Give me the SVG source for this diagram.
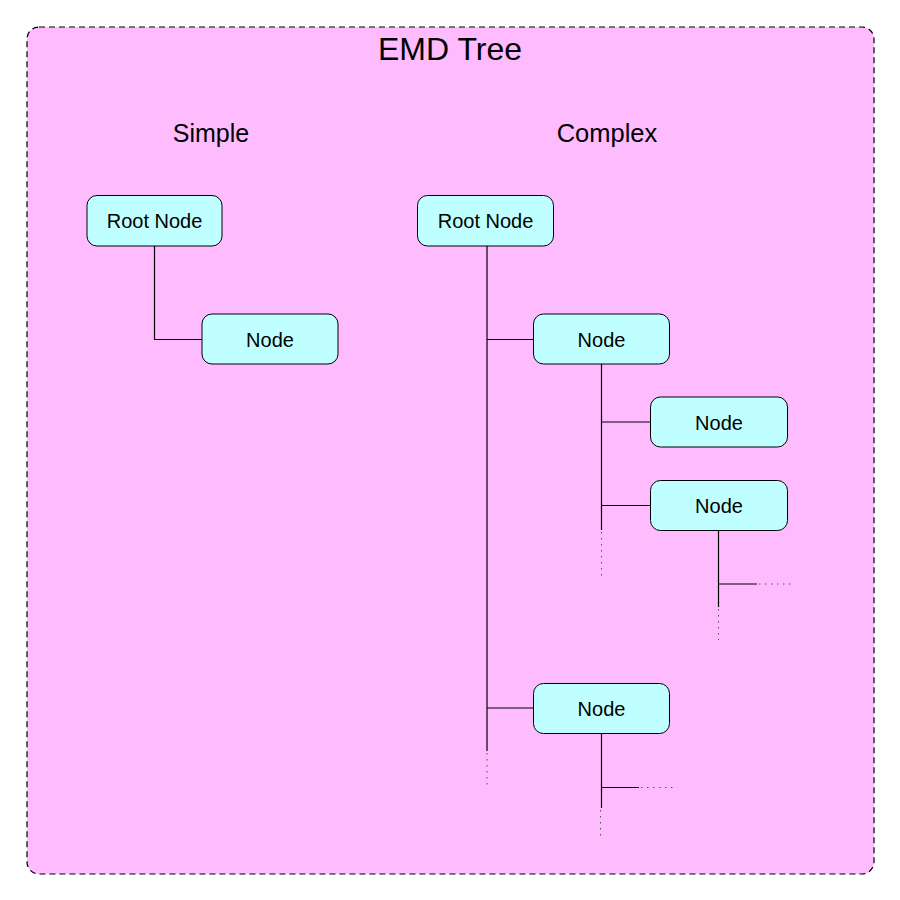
<svg xmlns="http://www.w3.org/2000/svg" width="900" height="900" viewBox="0 0 900 900">
<style>
.node rect{fill:#C0FFFF;stroke:#000;stroke-width:1}
.node text{font-family:"Liberation Sans",Arial,sans-serif;font-size:20px;text-anchor:middle;fill:#000}
.title{font-family:"Liberation Sans",Arial,sans-serif;text-anchor:middle;fill:#000}
.ln{stroke:#000;stroke-width:1.2;fill:none}
.dot{stroke:#555;stroke-width:1;fill:none;stroke-dasharray:1.5 4.5}
</style>
<rect x="27" y="27" width="847" height="847" rx="12" fill="#FEBBFE" stroke="#000" stroke-width="1.2" stroke-dasharray="6 4"/>
<text class="title" x="450" y="60" font-size="32">EMD Tree</text>
<text class="title" x="211" y="142" font-size="25">Simple</text>
<text class="title" x="607" y="142" font-size="25.5">Complex</text>
<g id="connectors">
<polyline class="ln" points="154.5,246 154.5,339.5 202,339.5"/>
<line class="ln" x1="487" y1="246" x2="487" y2="751"/>
<line class="dot" x1="487" y1="753" x2="487" y2="788"/>
<line class="ln" x1="487" y1="339.5" x2="533" y2="339.5"/>
<line class="ln" x1="487" y1="708" x2="533" y2="708"/>
<line class="ln" x1="601.5" y1="364" x2="601.5" y2="530"/>
<line class="dot" x1="601.5" y1="532" x2="601.5" y2="576"/>
<line class="ln" x1="601.5" y1="422" x2="650" y2="422"/>
<line class="ln" x1="601.5" y1="505.5" x2="650" y2="505.5"/>
<line class="ln" x1="718.5" y1="530" x2="718.5" y2="607"/>
<line class="dot" x1="718.5" y1="609" x2="718.5" y2="640"/>
<line class="ln" x1="718.5" y1="584" x2="757" y2="584"/>
<line class="dot" x1="759" y1="584" x2="794" y2="584"/>
<line class="ln" x1="601.5" y1="733" x2="601.5" y2="808"/>
<line class="dot" x1="600.5" y1="810" x2="600.5" y2="838"/>
<line class="ln" x1="601.5" y1="787.5" x2="639" y2="787.5"/>
<line class="dot" x1="641" y1="787.5" x2="676" y2="787.5"/>
</g>
<g id="simple-root" class="node"><rect x="87" y="195.5" width="135" height="50.5" rx="10"/><text x="154.5" y="227.5">Root Node</text></g>
<g id="simple-node" class="node"><rect x="202" y="314" width="136" height="50" rx="10"/><text x="270" y="346.5">Node</text></g>
<g id="complex-root" class="node"><rect x="417.5" y="195.5" width="136" height="50.5" rx="10"/><text x="485.5" y="227.5">Root Node</text></g>
<g id="complex-node1" class="node"><rect x="533.5" y="314" width="136" height="50" rx="10"/><text x="601.5" y="346.5">Node</text></g>
<g id="complex-node2" class="node"><rect x="650.5" y="397" width="137" height="50" rx="10"/><text x="719" y="429.5">Node</text></g>
<g id="complex-node3" class="node"><rect x="650.5" y="480.5" width="137" height="50" rx="10"/><text x="719" y="513">Node</text></g>
<g id="complex-node4" class="node"><rect x="533.5" y="683.5" width="136" height="50" rx="10"/><text x="601.5" y="715.5">Node</text></g>
</svg>
